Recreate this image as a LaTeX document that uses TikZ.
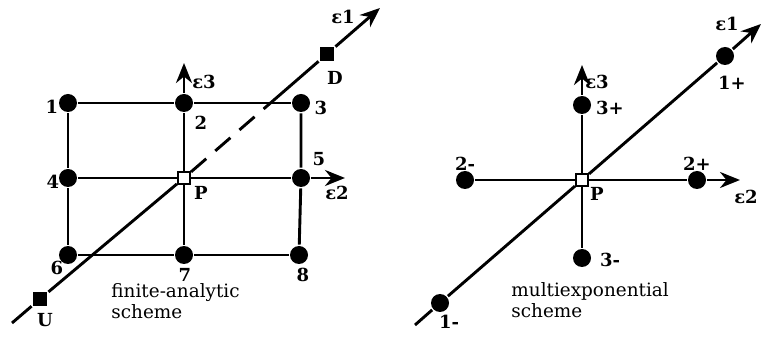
\documentclass[tikz,border=0pt]{standalone}
\usepackage{fontspec}
\setmainfont{DejaVu Serif}
\usetikzlibrary{arrows.meta, shapes.geometric}

\tikzset{
  dot/.style={circle, fill=black, inner sep=0pt, minimum size=9pt},
  blackSq/.style={rectangle, fill=black, inner sep=0pt, minimum size=7pt},
  openSq/.style={rectangle, draw=black, fill=white, line width=1.1pt, inner sep=0pt, minimum size=6pt},
  lbl/.style={inner sep=0pt, font=\fontsize{9}{10}\selectfont\bfseries},
  caption/.style={inner sep=0pt, font=\fontsize{9.2}{10.5}\selectfont, anchor=west, align=left},
  axis/.style={-{Stealth[length=10pt, width=8pt]}},
  grid/.style={line width=1.45pt}
}

\begin{document}
\begin{tikzpicture}[x=0.5pt, y=0.5pt, grid]
  \useasboundingbox (0,0) rectangle (765,337);

  % finite-analytic scheme
  \node[dot] (n1) at (68,234) {};
  \node[dot] (n2) at (184,234) {};
  \node[dot] (n3) at (301,234) {};
  \node[dot] (n4) at (68,159) {};
  \node[openSq] (P) at (184,159) {};
  \node[dot] (n5) at (301,159) {};
  \node[dot] (n6) at (68,82) {};
  \node[dot] (n7) at (184,82) {};
  \node[dot] (n8) at (299,82) {};
  \node[blackSq] (D) at (327,283) {};
  \node[blackSq] (U) at (40,38) {};
  \coordinate (e1s) at (12,14);
  \coordinate (e1e) at (380,329);
  \coordinate (e2e) at (345,159);
  \coordinate (e3e) at (184,274);
  \coordinate (cut) at (intersection of P--e1e and n1--n3);

  \draw (n1) -- (n2) -- (n3);
  \draw (n4) -- (P) -- (n5);
  \draw (n6) -- (n7) -- (n8);
  \draw (n1) -- (n4) -- (n6);
  \draw (n3) -- (n5) -- (n8);
  \draw (n7) -- (P) -- (n2);
  \draw[axis] (n2) -- (e3e);
  \draw[axis] (n5) -- (e2e);
  \draw (e1s) -- (U) -- (P);
  \draw[dash pattern=on 10pt off 6pt] (P) -- (cut);
  \draw (cut) -- (D);
  \draw[axis] (D) -- (e1e);

  \node[lbl] (t1) at (52,230) {1};
  \node[lbl] (t2) at (201,214) {2};
  \node[lbl] (t3) at (321,229) {3};
  \node[lbl] (t4) at (53,155) {4};
  \node[lbl] (t5) at (319,178) {5};
  \node[lbl] (t6) at (57,69) {6};
  \node[lbl] (t7) at (185,62) {7};
  \node[lbl] (t8) at (303,62) {8};
  \node[lbl] (tP) at (201,144) {P};
  \node[lbl] (tD) at (335,259) {D};
  \node[lbl] (tU) at (45,17) {U};
  \node[lbl] (te3) at (204,255) {ε3};
  \node[lbl] (te2) at (337,144) {ε2};
  \node[lbl] (te1) at (343,320) {ε1};
  \node[caption] (fa) at (110,36) {finite-analytic\\scheme};

  % multiexponential scheme
  \node[openSq] (Q) at (582,157) {};
  \node[dot] (m2m) at (465,157) {};
  \node[dot] (m2p) at (697,157) {};
  \node[dot] (m3p) at (582,232) {};
  \node[dot] (m3m) at (582,79) {};
  \node[dot] (m1p) at (725,281) {};
  \node[dot] (m1m) at (440,34) {};
  \coordinate (f1s) at (415,12);
  \coordinate (f1e) at (761,313);
  \coordinate (f2e) at (740,157);
  \coordinate (f3e) at (582,272);

  \draw (m2m) -- (Q) -- (m2p);
  \draw[axis] (m2p) -- (f2e);
  \draw (m3m) -- (Q) -- (m3p);
  \draw[axis] (m3p) -- (f3e);
  \draw (f1s) -- (m1m) -- (Q) -- (m1p);
  \draw[axis] (m1p) -- (f1e);

  \node[lbl] (s1p) at (732,254) {1+};
  \node[lbl] (s1m) at (449,15) {1-};
  \node[lbl] (s2m) at (465,173) {2-};
  \node[lbl] (s2p) at (697,173) {2+};
  \node[lbl] (s3p) at (610,229) {3+};
  \node[lbl] (s3m) at (610,77) {3-};
  \node[lbl] (sQ) at (597,143) {P};
  \node[lbl] (se3) at (597,255) {ε3};
  \node[lbl] (se2) at (746,140) {ε2};
  \node[lbl] (se1) at (727,313) {ε1};
  \node[caption] (me) at (510,37) {multiexponential\\scheme};
\end{tikzpicture}
\end{document}
